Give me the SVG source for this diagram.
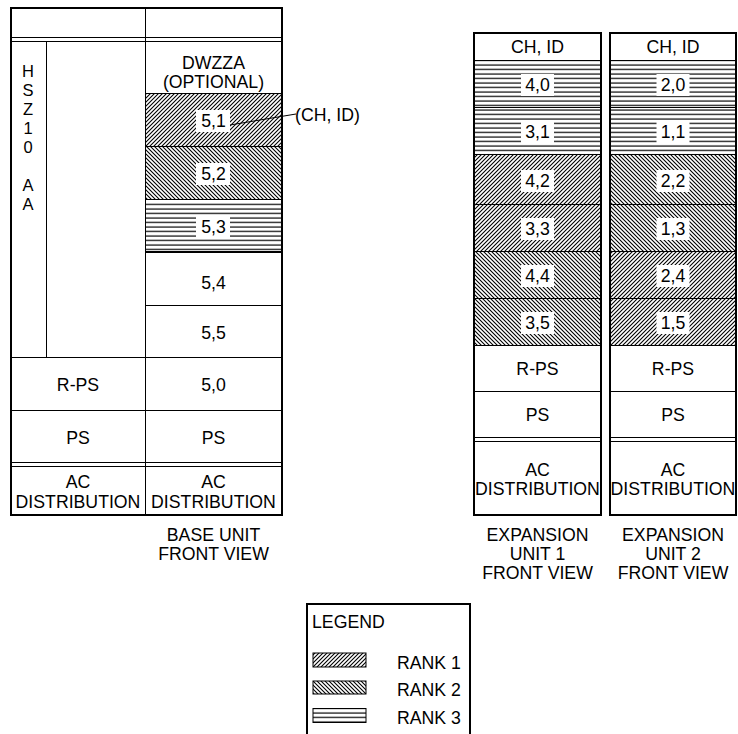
<svg xmlns="http://www.w3.org/2000/svg" width="738" height="734" viewBox="0 0 738 734">
<style>
.t{font-family:"Liberation Sans",Arial,sans-serif;font-size:17.7px;fill:#000;text-anchor:middle}
.tl{font-family:"Liberation Sans",Arial,sans-serif;font-size:17.7px;fill:#000;text-anchor:start}
.hz{font-family:"Liberation Sans",Arial,sans-serif;font-size:16.5px;fill:#000;text-anchor:middle}
.box{fill:none;stroke:#000;stroke-width:2}
.ln{stroke:#000;stroke-width:1;fill:none}
.wb{fill:#fff}
</style>
<defs>
<pattern id="r1" patternUnits="userSpaceOnUse" width="4" height="4"><path d="M-1,1 L1,-1 M0,4 L4,0 M3,5 L5,3" stroke="#000" stroke-width="1.1"/></pattern>
<pattern id="r2" patternUnits="userSpaceOnUse" width="4" height="4"><path d="M-1,3 L1,5 M0,0 L4,4 M3,-1 L5,1" stroke="#000" stroke-width="1.1"/></pattern>
<pattern id="r3" patternUnits="userSpaceOnUse" width="8" height="4.5"><line x1="0" y1="2" x2="8" y2="2" stroke="#000" stroke-width="1.2"/></pattern>
</defs>
<rect width="738" height="734" fill="#fff"/>

<g id="base-unit">
  <rect x="145" y="93" width="137" height="53" fill="url(#r1)"/>
  <rect x="145" y="146" width="137" height="53" fill="url(#r2)"/>
  <rect x="145" y="201" width="137" height="50" fill="url(#r3)"/>
  <path class="ln" d="M11,37.5H282 M11,41.5H282 M46.5,42V357 M145,93.5H282 M145,146.5H282 M145,199.5H282 M145,251.5H282 M145,252.5H282 M145,305.5H282 M11,357.5H282 M11,410.5H282 M11,462.5H282 M11,466.5H282 M145.5,8V515"/>
  <rect class="box" x="11" y="8" width="271" height="507"/>
  <g id="hsz-label">
    <text class="hz" x="28" y="77">H</text>
    <text class="hz" x="28" y="96">S</text>
    <text class="hz" x="28" y="115">Z</text>
    <text class="hz" x="28" y="134">1</text>
    <text class="hz" x="28" y="153">0</text>
    <text class="hz" x="28" y="191">A</text>
    <text class="hz" x="28" y="210">A</text>
  </g>
  <g id="dwzza"><text class="t" x="213.5" y="69">DWZZA</text><text class="t" x="213.5" y="88">(OPTIONAL)</text></g>
  <g id="b-5-1"><rect class="wb" x="196" y="110" width="34" height="22"/><text class="t" x="213.5" y="127">5,1</text></g>
  <g id="b-5-2"><rect class="wb" x="196" y="163" width="34" height="22"/><text class="t" x="213.5" y="180">5,2</text></g>
  <g id="b-5-3"><rect class="wb" x="196" y="216" width="34" height="22"/><text class="t" x="213.5" y="233">5,3</text></g>
  <g id="b-5-4"><text class="t" x="213.5" y="289">5,4</text></g>
  <g id="b-5-5"><text class="t" x="213.5" y="339">5,5</text></g>
  <g id="b-rps"><text class="t" x="78" y="391">R-PS</text></g>
  <g id="b-5-0"><text class="t" x="213.5" y="391">5,0</text></g>
  <g id="b-ps1"><text class="t" x="78" y="444">PS</text></g>
  <g id="b-ps2"><text class="t" x="213.5" y="444">PS</text></g>
  <g id="b-ac1"><text class="t" x="78" y="488">AC</text><text class="t" x="78" y="508">DISTRIBUTION</text></g>
  <g id="b-ac2"><text class="t" x="213.5" y="488">AC</text><text class="t" x="213.5" y="508">DISTRIBUTION</text></g>
  <g id="base-caption"><text class="t" x="213.5" y="541">BASE UNIT</text><text class="t" x="213.5" y="560">FRONT VIEW</text></g>
</g>

<g id="exp-unit-1">
  <rect x="474" y="60" width="127" height="47" fill="url(#r3)"/>
  <rect x="474" y="109" width="127" height="45" fill="url(#r3)"/>
  <rect x="474" y="155" width="127" height="49" fill="url(#r1)"/>
  <rect x="474" y="204" width="127" height="47" fill="url(#r1)"/>
  <rect x="474" y="251" width="127" height="47" fill="url(#r2)"/>
  <rect x="474" y="298" width="127" height="48" fill="url(#r2)"/>
  <path class="ln" d="M474,60.5H601 M474,107.5H601 M474,154.5H601 M474,204.5H601 M474,251.5H601 M474,298.5H601 M474,345.5H601 M474,391.5H601 M474,437.5H601 M474,441.5H601"/>
  <rect class="box" x="474" y="33" width="127" height="482"/>
  <text class="t" x="537.5" y="53">CH, ID</text>
  <g id="e1-4-0"><rect class="wb" x="521" y="74" width="33" height="22"/><text class="t" x="537.5" y="91">4,0</text></g>
  <g id="e1-3-1"><rect class="wb" x="521" y="121" width="33" height="22"/><text class="t" x="537.5" y="138">3,1</text></g>
  <g id="e1-4-2"><rect class="wb" x="521" y="170" width="33" height="22"/><text class="t" x="537.5" y="187">4,2</text></g>
  <g id="e1-3-3"><rect class="wb" x="521" y="218" width="33" height="22"/><text class="t" x="537.5" y="235">3,3</text></g>
  <g id="e1-4-4"><rect class="wb" x="521" y="265" width="33" height="22"/><text class="t" x="537.5" y="282">4,4</text></g>
  <g id="e1-3-5"><rect class="wb" x="521" y="312" width="33" height="22"/><text class="t" x="537.5" y="329">3,5</text></g>
  <g id="e1-rps"><text class="t" x="537.5" y="375">R-PS</text></g>
  <g id="e1-ps"><text class="t" x="537.5" y="421">PS</text></g>
  <g id="e1-ac"><text class="t" x="537.5" y="476">AC</text><text class="t" x="537.5" y="495">DISTRIBUTION</text></g>
  <g id="e1-caption"><text class="t" x="537.5" y="541">EXPANSION</text><text class="t" x="537.5" y="560">UNIT 1</text><text class="t" x="537.5" y="579">FRONT VIEW</text></g>
</g>

<g id="exp-unit-2">
  <rect x="610" y="60" width="126" height="47" fill="url(#r3)"/>
  <rect x="610" y="109" width="126" height="45" fill="url(#r3)"/>
  <rect x="610" y="155" width="126" height="49" fill="url(#r2)"/>
  <rect x="610" y="204" width="126" height="47" fill="url(#r2)"/>
  <rect x="610" y="251" width="126" height="47" fill="url(#r1)"/>
  <rect x="610" y="298" width="126" height="48" fill="url(#r1)"/>
  <path class="ln" d="M610,60.5H736 M610,107.5H736 M610,154.5H736 M610,204.5H736 M610,251.5H736 M610,298.5H736 M610,345.5H736 M610,391.5H736 M610,437.5H736 M610,441.5H736"/>
  <rect class="box" x="610" y="33" width="126" height="482"/>
  <text class="t" x="673" y="53">CH, ID</text>
  <g id="e2-2-0"><rect class="wb" x="656.5" y="74" width="33" height="22"/><text class="t" x="673" y="91">2,0</text></g>
  <g id="e2-1-1"><rect class="wb" x="656.5" y="121" width="33" height="22"/><text class="t" x="673" y="138">1,1</text></g>
  <g id="e2-2-2"><rect class="wb" x="656.5" y="170" width="33" height="22"/><text class="t" x="673" y="187">2,2</text></g>
  <g id="e2-1-3"><rect class="wb" x="656.5" y="218" width="33" height="22"/><text class="t" x="673" y="235">1,3</text></g>
  <g id="e2-2-4"><rect class="wb" x="656.5" y="265" width="33" height="22"/><text class="t" x="673" y="282">2,4</text></g>
  <g id="e2-1-5"><rect class="wb" x="656.5" y="312" width="33" height="22"/><text class="t" x="673" y="329">1,5</text></g>
  <g id="e2-rps"><text class="t" x="673" y="375">R-PS</text></g>
  <g id="e2-ps"><text class="t" x="673" y="421">PS</text></g>
  <g id="e2-ac"><text class="t" x="673" y="476">AC</text><text class="t" x="673" y="495">DISTRIBUTION</text></g>
  <g id="e2-caption"><text class="t" x="673" y="541">EXPANSION</text><text class="t" x="673" y="560">UNIT 2</text><text class="t" x="673" y="579">FRONT VIEW</text></g>
</g>

<g id="connectors">
  <path class="ln" d="M230,125 L296,114"/>
</g>
<g id="chid-callout"><text class="tl" x="295" y="121">(CH, ID)</text></g>

<g id="legend">
  <rect class="box" x="307" y="604" width="163" height="140"/>
  <text class="tl" x="312" y="628">LEGEND</text>
  <rect x="313" y="653" width="53" height="14" fill="url(#r1)" stroke="#000" stroke-width="1"/>
  <text class="tl" x="397" y="669">RANK 1</text>
  <rect x="313" y="681" width="53" height="13" fill="url(#r2)" stroke="#000" stroke-width="1"/>
  <text class="tl" x="397" y="696">RANK 2</text>
  <rect x="313" y="708.5" width="53" height="14" fill="url(#r3)" stroke="#000" stroke-width="1"/>
  <text class="tl" x="397" y="724">RANK 3</text>
</g>
</svg>
